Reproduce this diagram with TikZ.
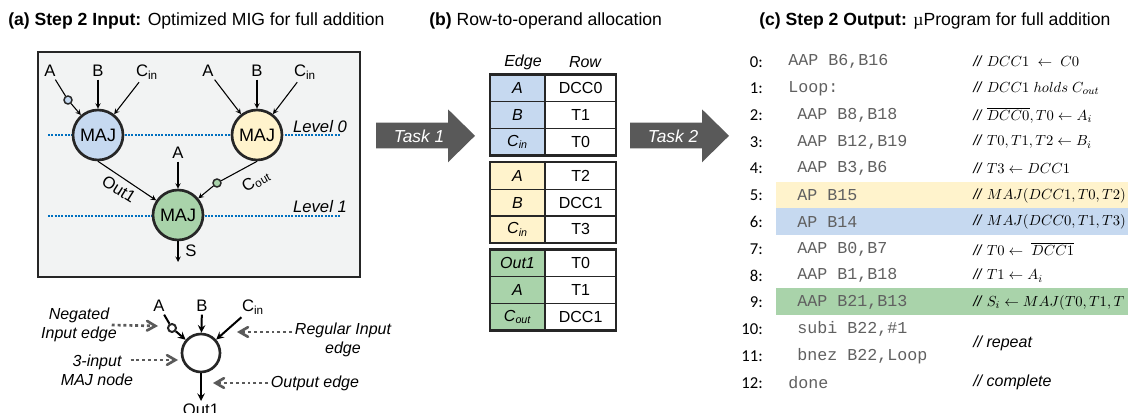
\documentclass[tikz,border=0pt]{standalone}
\usepackage{fontspec}
\setmainfont{Liberation Sans}
\setmonofont{Liberation Mono}
\newfontfamily\numfont{Carlito}
\newfontfamily\mufont{Liberation Serif}
\usetikzlibrary{arrows,positioning,shapes.geometric}
\definecolor{majblue}{RGB}{198,217,240}
\definecolor{majyellow}{RGB}{255,243,204}
\definecolor{majgreen}{RGB}{169,211,170}
\definecolor{panelgray}{RGB}{242,243,243}
\definecolor{levelblue}{RGB}{0,112,192}
\definecolor{taskgray}{RGB}{89,89,89}
\definecolor{hintgray}{RGB}{90,90,90}
\definecolor{codegray}{RGB}{96,96,96}
\tikzstyle{arrow} = [->,>=stealth]
\tikzstyle{hint} = [->,>=angle 60,dash pattern=on 2.2pt off 2.2pt,line width=2pt,draw=hintgray]
\pgfdeclarelayer{bg}
\pgfsetlayers{bg,main}
\tikzset{maj/.style={circle,draw=black!85,line width=2pt,minimum size=37.5pt,inner sep=0pt,font=\fontsize{13.5}{14}\selectfont},
    neg/.style={circle,draw=black!85,line width=1.1pt,minimum size=6pt,inner sep=0pt},
    lbl/.style={inner sep=2pt,font=\fontsize{12.5}{13}\selectfont},
    lvl/.style={dash pattern=on 1.5pt off 1pt,line width=1.5pt,draw=levelblue},
    lvltext/.style={inner sep=0pt,font=\fontsize{12.5}{13}\itshape},
    hinttext/.style={inner sep=2pt,align=center,font=\fontsize{12}{14}\itshape},
    title/.style={inner sep=0pt,anchor=west,font=\fontsize{13.2}{14}\selectfont},
    ecell/.style={draw=black!85,line width=1pt,minimum width=40.2pt,minimum height=20pt,inner sep=0pt,font=\fontsize{12}{13}\itshape},
    rcell/.style={ecell,fill=white,minimum width=52.5pt,font=\fontsize{12}{13}\selectfont},
    tasktext/.style={text=white,inner sep=0pt,font=\fontsize{13}{14}\itshape},
    lnum/.style={anchor=east,inner sep=0pt,font=\fontsize{12.5}{13}\numfont},
    code/.style={anchor=west,inner sep=0pt,text=codegray,font=\fontsize{12.5}{13}\ttfamily},
    cmt/.style={anchor=west,inner sep=0pt,font=\fontsize{11}{12}\selectfont}}

\begin{document}
\begin{tikzpicture}[x=0.75pt,y=-0.75pt]
    \useasboundingbox (0,0) rectangle (1128,413);

    % titles
    \node [title] (ttla) at (8,21) {\textbf{(a) Step 2 Input:} Optimized MIG for full addition};
    \node [title] (ttlb) at (429,21) {\textbf{(b)} Row-to-operand allocation};
    \node [title] (ttlc) at (759,21) {\textbf{(c) Step 2 Output:} {\mufont µ}Program for full addition};

    % (a) MIG
    \node [maj, fill=majblue] (maj1) at (98,135) {MAJ};
    \node [maj, fill=majyellow] (maj2) at (257,135) {MAJ};
    \node [maj, fill=majgreen] (maj3) at (178,215) {MAJ};

    \begin{pgfonlayer}{bg} % panel and level lines
    \draw [fill=panelgray, line width=1.5pt, draw=black!85] (38,52) rectangle (360,277);
    \draw [lvl] (48,135) -- (340,135);
    \draw [lvl] (48,216) -- (340,216);
    \end{pgfonlayer}
    \node [lvltext] (lvl0) at (320,127) {Level 0};
    \node [lvltext] (lvl1) at (320,207) {Level 1};

    \node [lbl] (a1) at (50,71) {A};
    \node [lbl] (b1) at (98,71) {B};
    \node [lbl] (c1) at (147,72) {C\textsubscript{in}};
    \node [lbl] (a2) at (208,71) {A};
    \node [lbl] (b2) at (257,71) {B};
    \node [lbl] (c2) at (305,72) {C\textsubscript{in}};
    \node [lbl] (a3) at (178,153) {A};
    \node [neg, fill=majblue] (n1) at (68,100) {};
    \node [neg, fill=majgreen] (n2) at (217,183) {};

    \begin{scope}[line width=0.8pt]
    \draw (a1) -- (n1);
    \draw [arrow] (n1) -- (maj1);
    \foreach \m in {1,2}
        {
        \draw [arrow] (b\m) -- (maj\m);
        \draw [arrow] (c\m) -- (maj\m);
        }
    \draw [arrow] (a2) -- (maj2);
    \draw [arrow] (a3) -- (maj3);
    \draw [arrow] (maj1.south) -- (maj3);
    \draw (maj2.south) -- (n2);
    \draw [arrow] (n2) -- (maj3);
    \coordinate (sout) at (178,262);
    \draw [arrow] (maj3) -- (sout);
    \end{scope}
    \node [lbl, rotate=-32] (out1) at (119,189) {Out1};
    \node [lbl, rotate=30] (cout) at (256,181) {C\textsubscript{out}};
    \node [lbl] (s) at (191,251) {S};

    % legend
    \node [maj, minimum size=28.5pt] (lmaj) at (201,353) {};
    \node [neg, line width=1.5pt] (ln) at (172,328) {};
    \node [lbl] (la) at (159,306) {A};
    \node [lbl] (lb) at (202,306) {B};
    \node [lbl] (lc) at (253,307) {C\textsubscript{in}};
    \node [lbl, anchor=north] (lout) at (201,401) {Out1};
    \begin{scope}[line width=1.5pt]
    \draw (la) -- (ln);
    \draw [arrow] (ln) -- (lmaj);
    \draw [arrow] (lb) -- (lmaj);
    \draw [arrow] (lc) -- (lmaj);
    \draw [arrow] (lmaj) -- (lout);
    \end{scope}

    \node [hinttext] (hneg) at (79,325) {Negated\\Input edge};
    \node [hinttext] (hmaj) at (97,370) {3-input\\MAJ node};
    \node [hinttext] (hreg) at (343,340) {Regular Input\\edge};
    \node [hinttext] (hout) at (315,383) {Output edge};
    \coordinate (hnegtip) at (158,326);
    \coordinate (hmajtip) at (178,360);
    \coordinate (hregtip) at (237,332);
    \coordinate (houttip) at (213,383);
    \draw [hint] ([xshift=-6pt]hneg.east) -- (hnegtip);
    \draw [hint] ([yshift=7.5pt,xshift=-4pt]hmaj.east) -- (hmajtip);
    \draw [hint] ([yshift=6pt]hreg.west) -- (hregtip);
    \draw [hint] (hout.west) -- (houttip);

    % task arrows
    \fill [taskgray] (376,122.7) -- (448,122.7) -- (448,109.3) -- (475,135.8) -- (448,162.3) -- (448,148.3) -- (376,148.3) -- cycle;
    \node [tasktext] (task1) at (419,136) {Task 1};
    \fill [taskgray] (630,122.7) -- (702,122.7) -- (702,109.3) -- (729,135.8) -- (702,162.3) -- (702,148.3) -- (630,148.3) -- cycle;
    \node [tasktext] (task2) at (673,136) {Task 2};

    % (b) allocation table
    \node [lvltext, font=\fontsize{12}{13}\itshape] (hedge) at (523,62) {Edge};
    \node [lvltext, font=\fontsize{12}{13}\itshape] (hrow) at (585,62) {Row};
    \foreach \k/\e/\r in {1/A/DCC0, 2/B/T1, 3/{C\textsubscript{in}}/T0}
        {
        \node [ecell, fill=majblue] (ea\k) at (517.5,61.7+26.67*\k) {\e};
        \node [rcell, right=0pt of ea\k] (ra\k) {\r};
        }
    \foreach \k/\e/\r in {1/A/T2, 2/B/DCC1, 3/{C\textsubscript{in}}/T3}
        {
        \node [ecell, fill=majyellow] (eb\k) at (517.5,149.4+26.67*\k) {\e};
        \node [rcell, right=0pt of eb\k] (rb\k) {\r};
        }
    \foreach \k/\e/\r in {1/Out1/T0, 2/A/T1, 3/{C\textsubscript{out}}/DCC1}
        {
        \node [ecell, fill=majgreen] (ec\k) at (517.5,236.7+26.67*\k) {\e};
        \node [rcell, right=0pt of ec\k] (rc\k) {\r};
        }
    \foreach \g in {a,b,c}
        \draw [line width=1.4pt, draw=black!85] (e\g1.north west) rectangle (r\g3.south east);

    % (c) micro program
    \fill [majyellow] (776,181.7) rectangle (1128,208.3);
    \fill [majblue] (776,208.3) rectangle (1128,235);
    \fill [majgreen] (776,288.3) rectangle (1128,315);

    \foreach \k in {0,...,12}
        \node [lnum] (ln\k) at (763,61.7+26.75*\k) {\k:};
    \foreach \k/\x/\c in {0/788/{AAP B6,B16}, 1/788/{Loop:}, 2/797/{AAP B8,B18}, 3/797/{AAP B12,B19},
        4/797/{AAP B3,B6}, 5/797/{AP B15}, 6/797/{AP B14}, 7/797/{AAP B0,B7}, 8/797/{AAP B1,B18},
        9/797/{AAP B21,B13}, 10/797/{subi B22,\#1}, 11/797/{bnez B22,Loop}, 12/788/{done}}
        \node [code] (op\k) at (\x,61.7+26.75*\k) {\c};
    \foreach \k/\c in {0/{$DCC1\;\leftarrow\;C0$}, 1/{$DCC1\;holds\;C_{out}$},
        2/{$\overline{DCC0},T0\leftarrow A_i$}, 3/{$T0,T1,T2\leftarrow B_i$}, 4/{$T3\leftarrow DCC1$},
        5/{$MAJ(DCC1,T0,T2)$}, 6/{$MAJ(DCC0,T1,T3)$}, 7/{$T0\leftarrow\;\overline{DCC1}$},
        8/{$T1\leftarrow A_i$}, 9/{$S_i\leftarrow MAJ(T0,T1,T$}}
        \node [cmt] (cm\k) at (973,61.7+26.75*\k) {\textit{//} \c};
    \node [cmt, font=\fontsize{12}{13}\selectfont] (cmrep) at (973,343) {\textit{// repeat}};
    \node [cmt, font=\fontsize{12}{13}\selectfont] (cmdone) at (973,382.7) {\textit{// complete}};
\end{tikzpicture}
\end{document}
